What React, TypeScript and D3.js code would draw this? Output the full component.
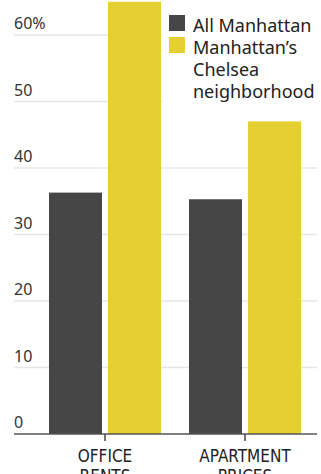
import React from "react";
import * as d3 from "d3";

const categories = ["OFFICE RENTS", "APARTMENT PRICES"];
const categoryLines = [["OFFICE", "RENTS"], ["APARTMENT", "PRICES"]];
const seriesNames = ["All Manhattan", "Manhattan’s Chelsea neighborhood"];
const legendLines = [["All Manhattan"], ["Manhattan’s", "Chelsea", "neighborhood"]];
const allManhattan = [36.3, 35.3];
const chelsea = [65, 47];
const yTicks = [0, 10, 20, 30, 40, 50, 60];
const colors = ["#464646", "#e6cf30"];

const W = 321;
const H = 474;

export default function App() {
  const y = d3.scaleLinear().domain([0, 60]).range([434, 35]);
  const x0 = d3.scaleBand<string>().domain(categories).range([35, 315]).padding(0);
  const x1 = d3
    .scaleBand<string>()
    .domain(seriesNames)
    .range([-56, 56])
    .paddingInner(6 / 59)
    .paddingOuter(0);
  const series = [allManhattan, chelsea];
  const font = "'Noto Sans', 'Open Sans', sans-serif";
  const condensed = "'Liberation Sans Narrow', 'DejaVu Sans Condensed', 'Roboto Condensed', sans-serif";

  return (
    <div style={{ position: "fixed", left: 0, top: 0 }}>
      <svg width={W} height={H} style={{ display: "block", background: "#fff" }}>
        {yTicks.map((t) => (
          <g key={t}>
            {t > 0 && (
              <line x1={14} x2={317} y1={y(t)} y2={y(t)} stroke="#e6e6e6" strokeWidth={1.5} />
            )}
            <text x={14} y={y(t) - 6} fontFamily={font} fontSize={16} fill="#333">
              {t === 60 ? "60%" : String(t)}
            </text>
          </g>
        ))}
        {/* legend background covering gridlines */}
        <rect x={162} y={0} width={159} height={112} fill="#fff" />
        {categories.map((c, ci) => (
          <g key={c} transform={`translate(${(x0(c) ?? 0) + x0.bandwidth() / 2},0)`}>
            {seriesNames.map((s, si) => (
              <rect
                key={s}
                x={x1(s)}
                y={y(series[si][ci])}
                width={x1.bandwidth()}
                height={y(0) - y(series[si][ci])}
                fill={colors[si]}
              />
            ))}
            <line x1={0} x2={0} y1={434} y2={441} stroke="#444" strokeWidth={1.5} />
            {categoryLines[ci].map((l, li) => (
              <text
                key={l}
                x={0}
                y={462 + li * 20}
                textAnchor="middle"
                fontFamily={condensed}
                fontSize={17}
                fill="#222"
              >
                {l}
              </text>
            ))}
          </g>
        ))}
        <line x1={14} x2={317} y1={434} y2={434} stroke="#555" strokeWidth={1.5} />
        {seriesNames.map((s, si) => (
          <g key={s}>
            <rect x={169} y={15 + si * 22} width={16} height={16} fill={colors[si]} />
            {legendLines[si].map((l, li) => (
              <text
                key={l}
                x={193}
                y={32 + si * 22 + li * 22}
                fontFamily={font}
                fontSize={18}
                fill="#222"
              >
                {l}
              </text>
            ))}
          </g>
        ))}
      </svg>
    </div>
  );
}
